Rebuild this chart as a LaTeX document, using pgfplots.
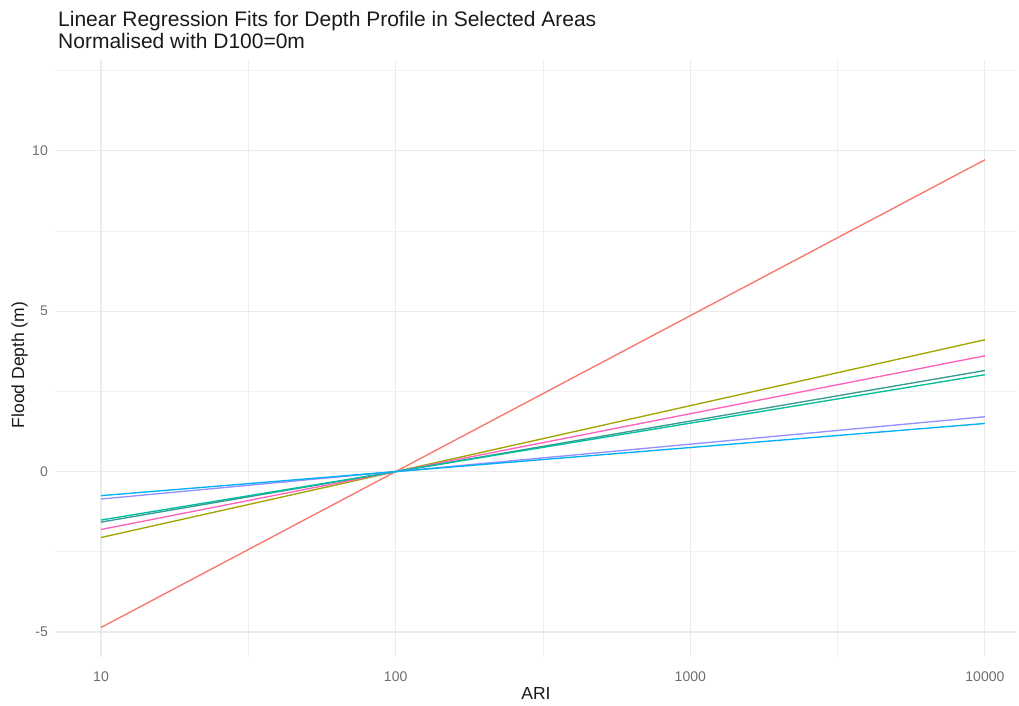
\documentclass[border=0pt]{standalone}
\usepackage{pgfplots}
\pgfplotsset{compat=1.18}
\usepackage{fontspec}
\setmainfont{Liberation Sans}
\definecolor{cA}{HTML}{F8766D}
\definecolor{cB}{HTML}{A3A500}
\definecolor{cC}{HTML}{FF62BC}
\definecolor{cD}{HTML}{3A9A96}
\definecolor{cE}{HTML}{00BF9D}
\definecolor{cF}{HTML}{9590FF}
\definecolor{cG}{HTML}{00B0F6}
\definecolor{gridc}{HTML}{EBEBEB}
\definecolor{tickc}{HTML}{6E6E6E}
\definecolor{titlec}{HTML}{1A1A1A}
\begin{document}
\begin{tikzpicture}
\useasboundingbox (0pt,0pt) rectangle (1019pt,-705pt);
\begin{axis}[at={(55pt,-657pt)}, anchor=south west, scale only axis,
  width=962pt, height=597pt,
  xmode=log, xmin=6.98, xmax=12850, ymin=-5.78, ymax=12.83,
  xtick={10,100,1000,10000}, xticklabels={10,100,1000,10000},
  minor xtick={31.623,316.23,3162.3},
  ytick={-5,0,5,10}, yticklabels={-5,0,5,10},
  minor ytick={-2.5,2.5,7.5,12.5},
  grid=both,
  major grid style={color=gridc, line width=1.1pt},
  minor grid style={color=gridc!70, line width=0.6pt},
  axis line style={draw=none}, tick style={draw=none},
  major tick length=0pt, minor tick length=0pt,
  tick label style={font=\fontsize{14}{14}\selectfont, text=tickc},
  xticklabel style={anchor=base, yshift=-24pt, inner sep=0pt},
  yticklabel style={anchor=east, xshift=-7pt, inner sep=0pt},
  clip=false,
  every axis plot/.append style={line width=1.35pt, no markers},
]
\addplot[cA] coordinates {(10,-4.86) (100,0) (10000,9.72)};
\addplot[cB] coordinates {(10,-2.055) (100,0) (10000,4.11)};
\addplot[cC] coordinates {(10,-1.805) (100,0) (10000,3.61)};
\addplot[cD] coordinates {(10,-1.575) (100,0) (10000,3.15)};
\addplot[cE] coordinates {(10,-1.51) (100,0) (10000,3.02)};
\addplot[cF] coordinates {(10,-0.855) (100,0) (10000,1.71)};
\addplot[cG] coordinates {(10,-0.75) (100,0) (10000,1.50)};
\end{axis}
\node[anchor=base west, inner sep=0pt, text=titlec, font=\fontsize{21}{21}\selectfont] at (58pt,-26pt) {Linear Regression Fits for Depth Profile in Selected Areas};
\node[anchor=base west, inner sep=0pt, text=titlec, font=\fontsize{21}{21}\selectfont] at (58pt,-48pt) {Normalised with D100=0m};
\node[anchor=base, inner sep=0pt, text=titlec, font=\fontsize{17.5}{17.5}\selectfont] at (536pt,-699pt) {ARI};
\node[rotate=90, anchor=base, inner sep=0pt, text=titlec, font=\fontsize{17.5}{17.5}\selectfont] at (24pt,-365pt) {Flood Depth (m)};
\end{tikzpicture}
\end{document}
